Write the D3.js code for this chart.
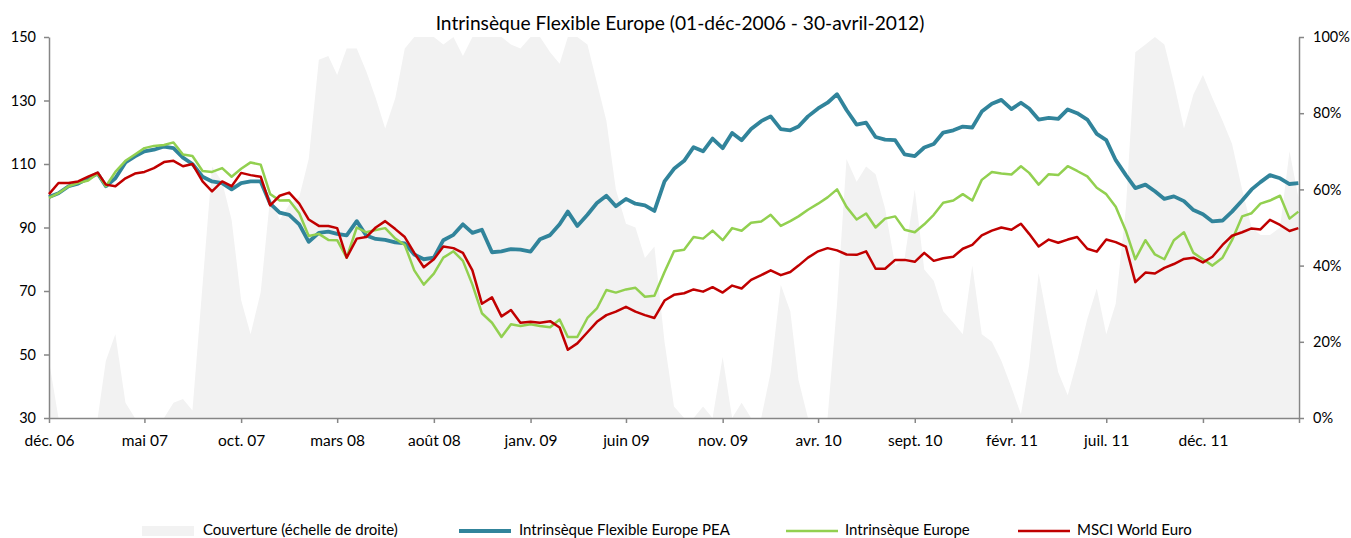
<!DOCTYPE html>
<html><head><meta charset="utf-8">
<script src="https://cdn.jsdelivr.net/npm/d3@7"></script>
<style>
body{margin:0;background:#fff}
svg{display:block}
text{font-family:Lato,"Open Sans",sans-serif;fill:#000}
</style>
</head><body><svg id="c" width="1351" height="538"></svg>
<script>
const title = "Intrinsèque Flexible Europe (01-déc-2006 - 30-avril-2012)";
const seriesNames = ["Couverture (échelle de droite)","Intrinsèque Flexible Europe PEA","Intrinsèque Europe","MSCI World Euro"];
const dates = [
"2006-12-01","2006-12-16",
"2007-01-01","2007-01-16","2007-02-01","2007-02-16","2007-03-01","2007-03-16","2007-04-01","2007-04-16","2007-05-01","2007-05-16","2007-06-01","2007-06-16",
"2007-07-01","2007-07-16","2007-08-01","2007-08-16","2007-09-01","2007-09-16","2007-10-01","2007-10-16","2007-11-01","2007-11-16","2007-12-01","2007-12-16",
"2008-01-01","2008-01-16","2008-02-01","2008-02-16","2008-03-01","2008-03-16","2008-04-01","2008-04-16","2008-05-01","2008-05-16","2008-06-01","2008-06-16",
"2008-07-01","2008-07-16","2008-08-01","2008-08-16","2008-09-01","2008-09-16","2008-10-01","2008-10-16","2008-11-01","2008-11-16","2008-12-01","2008-12-16",
"2009-01-01","2009-01-16","2009-02-01","2009-02-16","2009-03-01","2009-03-16","2009-04-01","2009-04-16","2009-05-01","2009-05-16","2009-06-01","2009-06-16",
"2009-07-01","2009-07-16","2009-08-01","2009-08-16","2009-09-01","2009-09-16","2009-10-01","2009-10-16","2009-11-01","2009-11-16","2009-12-01","2009-12-16",
"2010-01-01","2010-01-16","2010-02-01","2010-02-16","2010-03-01","2010-03-16","2010-04-01","2010-04-16","2010-05-01","2010-05-16","2010-06-01","2010-06-16",
"2010-07-01","2010-07-16","2010-08-01","2010-08-16","2010-09-01","2010-09-16","2010-10-01","2010-10-16","2010-11-01","2010-11-16","2010-12-01","2010-12-16",
"2011-01-01","2011-01-16","2011-02-01","2011-02-16","2011-03-01","2011-03-16","2011-04-01","2011-04-16","2011-05-01","2011-05-16","2011-06-01","2011-06-16",
"2011-07-01","2011-07-16","2011-08-01","2011-08-16","2011-09-01","2011-09-16","2011-10-01","2011-10-16","2011-11-01","2011-11-16","2011-12-01","2011-12-16",
"2012-01-01","2012-01-16","2012-02-01","2012-02-16","2012-03-01","2012-03-16","2012-04-01","2012-04-16","2012-04-30"];
// Couverture (%), right axis
const coverage = [
15,0,0,0,0,0,15,22,4,0,
0,0,0,4,5,2,35,66,62,52,
31,22,33,58,52,56,58,68,94,95,
90,97,97,91,84,76,84,97,100,100,
100,98,100,95,100,100,100,100,98,97,
100,100,96,93,100,100,98,88,78,60,
51,50,42,45,20,3,0,0,3,0,
16,0,4,0,0,12,35,28,10,0,
0,0,30,68,62,66,64,55,40,42,
60,39,36,28,25,22,40,22,20,15,
8,1,14,38,24,12,6,15,26,34,
22,30,55,96,98,100,98,88,76,85,
90,84,78,72,60,50,48,48,50,70,
58];
// Intrinsèque Flexible Europe PEA
const flexPEA = [
99.6,100.8,103,103.8,105.5,107,103,105.5,110.5,112.4,
114,114.5,115.5,115,112,110,106,104.5,104,102,
104,104.5,104.5,97.5,94.7,94,91,85.5,88.3,88.7,
88,87.5,92,87.5,86.4,86.1,85.3,85,81.5,80,
80.5,86,87.7,91,88.3,89.3,82.2,82.5,83.2,83,
82.4,86.3,87.6,91,95,90.5,94,97.7,100,96.7,
99,97.5,97,95.2,104.5,108.5,111,115.3,114,118,
115,119.8,117.5,121,123.5,125,121,120.6,121.8,125,
127.5,129.3,132,127,122.4,123,118.5,117.7,117.5,113,
112.5,115.2,116.3,119.9,120.6,121.8,121.5,126.5,129,130.2,
127.3,129.3,127.5,124,124.5,124.2,127.2,126,124,119.5,
117.5,111.2,106.5,102.4,103.5,101.4,99,99.8,98.3,95.5,
94.2,91.9,92.2,95,98.5,102,104.3,106.5,105.5,103.7,
104];
// Intrinsèque Europe
const europe = [
99.3,100.8,103,104,104.8,107,103,107.5,111,113,
115,115.7,116,116.8,113,112.5,107.8,107.5,108.7,106,
108.5,110.5,109.8,100.5,98.5,98.6,94.5,87.3,88,86.1,
86,80.5,90,88.5,89.2,89.8,86.5,84.5,76.5,72,
75.5,80.5,82.5,79.5,72,63,60,55.5,59.5,59,
59.5,59,58.6,61,55.5,55.5,61.5,64.5,70.3,69.5,
70.5,71,68.2,68.5,76,82.5,83,87,86.5,89,
86,89.8,89,91.5,91.9,94,90.5,92,93.5,95.6,
97.5,99.5,102,96.5,92.5,94.4,90,92.8,93.5,89.3,
88.5,91,94,97.8,98.5,100.5,98.5,105,107.5,107,
106.7,109.3,107.2,103.5,106.8,106.5,109.3,107.8,106.1,102.5,
100.5,96.5,89,80,86,81.5,80,86,88.5,82,
80,78,80.5,86,93.5,94.5,97.5,98.5,100,92.8,
95];
// MSCI World Euro
const msci = [
100.5,104,104,104.5,106,107.3,103.5,103,105.5,107,
107.5,108.7,110.6,111,109.3,110,104.5,101.4,104.5,103,
107.2,106.5,106,97,100,101,97.5,92.5,90.5,90.5,
89.8,80.5,86.5,87,90,92,89.5,87,82,77.5,
80,84,83.5,82,76.5,66,68,62,64,60,
60.3,60,60.5,58.5,51.5,53.5,57,60.3,62.4,63.5,
65,63.5,62.4,61.5,67,68.8,69.3,70.5,69.8,71.2,
69.5,71.7,70.8,73.5,75,76.5,75,76,78,80.5,
82.5,83.5,82.8,81.5,81.4,82.5,77,77,79.8,79.8,
79.2,82,79.5,80.3,80.8,83.3,84.5,87.5,89,90,
89.3,91.2,88,84,86.2,85.2,86.2,87,83.3,82.4,
86.2,85.4,84,72.8,75.8,75.5,77.3,78.5,80.1,80.5,
79,80.8,84.5,87.4,88.5,89.7,89.4,92.4,90.8,88.9,
89.8];
const leftTicks = [30,50,70,90,110,130,150];
const rightTicks = [0,20,40,60,80,100];
const xTickDates = ["2006-12-01","2007-05-01","2007-10-01","2008-03-01","2008-08-01","2009-01-01","2009-06-01","2009-11-01","2010-04-01","2010-09-01","2011-02-01","2011-07-01","2011-12-01","2012-05-01"];
const xTickLabels = ["déc. 06","mai 07","oct. 07","mars 08","août 08","janv. 09","juin 09","nov. 09","avr. 10","sept. 10","févr. 11","juil. 11","déc. 11",""];
const colors = {cover:"#F2F2F2", pea:"#31849B", eur:"#92D050", msci:"#C00000", axis:"#868686"};

const parse = d3.timeParse("%Y-%m-%d");
const D = dates.map(parse);
const svg = d3.select("#c");
const L = 49, R = 1299, T = 37, B = 418;
const x = d3.scaleTime().domain([parse("2006-12-01"), parse("2012-05-01")]).range([L, R]);
const y = d3.scaleLinear().domain([30,150]).range([B, T]);
const y2 = d3.scaleLinear().domain([0,100]).range([B, T]);

const n = D.length;
const covData = D.map((d,i)=>({d, v: coverage[i]})).filter(p=>p.v!==undefined);
svg.append("path").datum(covData)
  .attr("fill", colors.cover)
  .attr("d", d3.area().x(p=>x(p.d)).y0(B).y1(p=>y2(p.v)));

function styleAxis(g, fs){
  g.select(".domain").attr("stroke", colors.axis).attr("stroke-width", 1.5);
  g.selectAll(".tick line").attr("stroke", colors.axis).attr("stroke-width", 1.5);
  g.selectAll(".tick text").attr("font-family","Lato, sans-serif").attr("font-size", fs).attr("fill","#000");
}
svg.append("g").attr("transform",`translate(${L},0)`)
  .call(d3.axisLeft(y).tickValues(leftTicks).tickSize(5).tickSizeOuter(0).tickPadding(8))
  .call(g=>styleAxis(g,14.5));
svg.append("g").attr("transform",`translate(${R},0)`)
  .call(d3.axisRight(y2).tickValues(rightTicks).tickSize(5).tickSizeOuter(0).tickPadding(9).tickFormat(d=>d+"%"))
  .call(g=>styleAxis(g,14.5));
const xt = xTickDates.map(parse);
svg.append("g").attr("transform",`translate(0,${B})`)
  .call(d3.axisBottom(x).tickValues(xt).tickSize(5).tickSizeOuter(0).tickPadding(12)
    .tickFormat((d,i)=>xTickLabels[i]))
  .call(g=>styleAxis(g,15.5));

function line(vals){
  return d3.line().x((v,i)=>x(D[i])).y(v=>y(v)).defined(v=>v!==undefined)(vals.slice(0,n));
}
svg.append("path").attr("d", line(flexPEA)).attr("fill","none").attr("stroke",colors.pea).attr("stroke-width",3.8).attr("stroke-linejoin","round");
svg.append("path").attr("d", line(europe)).attr("fill","none").attr("stroke",colors.eur).attr("stroke-width",2.5).attr("stroke-linejoin","round");
svg.append("path").attr("d", line(msci)).attr("fill","none").attr("stroke",colors.msci).attr("stroke-width",2.5).attr("stroke-linejoin","round");

svg.append("text").attr("x",680).attr("y",30).attr("text-anchor","middle")
  .attr("font-size",19.2).text(title);

const lg = svg.append("g");
const legendItems = [
  {sx:142, tx:203, type:"rect", c:colors.cover},
  {sx:459, tx:519, type:"line", c:colors.pea, w:3.8},
  {sx:786, tx:845, type:"line", c:colors.eur, w:2.6},
  {sx:1018, tx:1077, type:"line", c:colors.msci, w:2.6}
];
legendItems.forEach((it,i)=>{
  if(it.type==="rect") lg.append("rect").attr("x",it.sx).attr("y",526).attr("width",52).attr("height",10).attr("fill",it.c);
  else lg.append("line").attr("x1",it.sx).attr("x2",it.sx+52).attr("y1",531).attr("y2",531).attr("stroke",it.c).attr("stroke-width",it.w);
  lg.append("text").attr("x",it.tx).attr("y",534.5).attr("font-size",15).text(seriesNames[i]);
});
</script></body></html>
